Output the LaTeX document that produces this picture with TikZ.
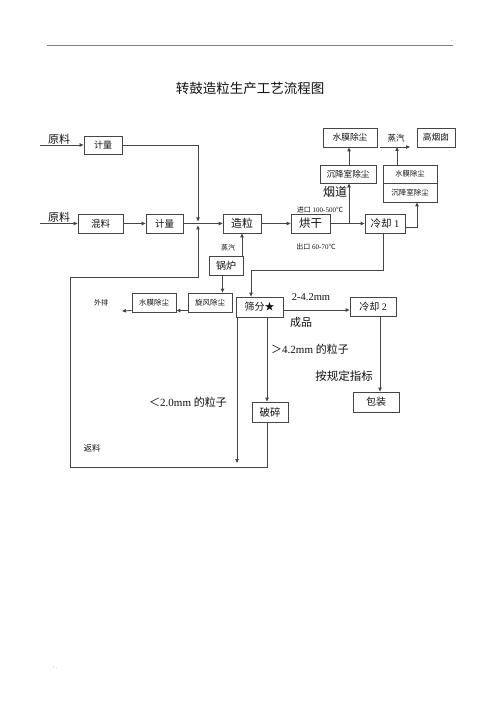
\documentclass[tikz,border=0pt]{standalone}
\usepackage{fontspec}
\setmainfont{Liberation Serif}
\newfontfamily\cjk{Noto Sans CJK SC}
\usetikzlibrary{arrows.meta}
\newcommand\myfs[1]{\fontsize{#1}{#1}\selectfont}
\definecolor{linec}{HTML}{454545}
\definecolor{txtc}{HTML}{111111}
\tikzset{
  box/.style={draw=linec, line width=0.8pt, inner sep=0pt, text=txtc},
  arr/.style={draw=linec, line width=0.8pt, -{Triangle[length=4pt,width=3.4pt]}},
  ln/.style={draw=linec, line width=0.8pt},
  lbl/.style={inner sep=0pt, text=txtc},
}
\begin{document}
\begin{tikzpicture}[x=1pt,y=-1pt]
\useasboundingbox (0,0) rectangle (500,708);
\fill[white] (0,0) rectangle (500,708);
% header rule and marks
\draw[draw=gray, line width=0.8pt] (47,45) -- (453,45);
\node[lbl, font=\myfs{5}] (dot1) at (452,41) {.};
\node[lbl, font=\myfs{5}, text=gray] (dot2) at (55,667) {: .};
% title
\node[lbl, font=\cjk\myfs{13.5}] (title) at (250,88) {转鼓造粒生产工艺流程图};

% boxes
\node[box, minimum width=38pt, minimum height=18pt, font=\cjk\myfs{9}] (jl1) at (103,145) {计量};
\node[box, minimum width=45pt, minimum height=19pt, font=\cjk\myfs{9.5}] (hl) at (100.5,223.5) {混料};
\node[box, minimum width=37pt, minimum height=19pt, font=\cjk\myfs{9.5}] (jl2) at (164.5,223.5) {计量};
\node[box, minimum width=38pt, minimum height=19pt, font=\cjk\myfs{11}] (zl) at (242,223.5) {造粒};
\node[box, minimum width=39pt, minimum height=19pt, font=\cjk\myfs{11.5}] (hg) at (310.5,223.5) {烘干};
\node[box, minimum width=40pt, minimum height=19pt, font=\myfs{10.5}] (lq1) at (385,223.5) {{\cjk 冷却} 1};
\node[box, minimum width=56pt, minimum height=18pt, font=\cjk\myfs{8.6}] (cj1) at (348,174) {沉降室除尘};
\node[box, minimum width=54pt, minimum height=19pt, font=\cjk\myfs{8.7}] (sm1) at (350,137.5) {水膜除尘};
\node[box, minimum width=54pt, minimum height=18pt, font=\cjk\myfs{7.3}] (sm2) at (410,174) {水膜除尘};
\node[box, minimum width=54pt, minimum height=19pt, font=\cjk\myfs{7.5}] (cj2) at (410,192.5) {沉降室除尘};
\node[box, minimum width=38pt, minimum height=19pt, font=\cjk\myfs{8.7}] (gyc) at (436,137.5) {高烟囱};
\node[box, minimum width=34pt, minimum height=19pt, font=\cjk\myfs{10}] (gl) at (226,265.5) {锅炉};
\node[box, minimum width=44pt, minimum height=19pt, font=\cjk\myfs{7.5}] (xf) at (210,302.5) {旋风除尘};
\node[box, minimum width=44pt, minimum height=19pt, font=\cjk\myfs{7.5}] (sm3) at (154,302.5) {水膜除尘};
\node[box, minimum width=47pt, minimum height=20pt, font=\cjk\myfs{10}] (sf) at (259.5,307) {筛分★};
\node[box, minimum width=46pt, minimum height=19pt, font=\myfs{10}] (lq2) at (373,306.5) {{\cjk 冷却} 2};
\node[box, minimum width=36pt, minimum height=20pt, font=\cjk\myfs{10.5}] (ps) at (270,412) {破碎};
\node[box, minimum width=46pt, minimum height=20pt, font=\cjk\myfs{10}] (bz) at (376,402) {包装};

% labels
\node[lbl, font=\cjk\myfs{11}] (yl1) at (59,139) {原料};
\node[lbl, font=\cjk\myfs{11}] (yl2) at (59,217.5) {原料};
\node[lbl, font=\cjk\myfs{7}] (zq1) at (228,248) {蒸汽};
\node[lbl, font=\myfs{7}] (jk) at (320,210) {{\cjk 进口} 100-500{\cjk ℃}};
\node[lbl, font=\myfs{7}] (ck) at (316,247) {{\cjk 出口} 60-70{\cjk ℃}};
\node[lbl, font=\cjk\myfs{12}] (yd) at (335,192) {烟道};
\node[lbl, font=\cjk\myfs{8.5}] (zq2) at (396,138) {蒸汽};
\node[lbl, font=\cjk\myfs{7}] (wp) at (101,303) {外排};
\node[lbl, font=\myfs{10.5}] (l24) at (311,297) {2-4.2mm};
\node[lbl, font=\cjk\myfs{11}] (cp) at (301,322) {成品};
\node[lbl, font=\myfs{11}] (l42) at (310,349) {{\cjk ＞}4.2mm {\cjk 的粒子}};
\node[lbl, font=\cjk\myfs{11.5}] (agd) at (344,376) {按规定指标};
\node[lbl, font=\myfs{11}] (l20) at (188,402) {{\cjk ＜}2.0mm {\cjk 的粒子}};
\node[lbl, font=\cjk\myfs{8.5}] (fl) at (92,448) {返料};

% coordinates
\coordinate (in1) at (40,145);
\coordinate (in2) at (40,223.5);
\coordinate (jt) at (198,221.5);
\coordinate (jb) at (198,225.5);
\coordinate (r1) at (198,277);
\coordinate (r2) at (70,277);
\coordinate (r3) at (70,467);
\coordinate (lt) at (237,463);
\coordinate (k) at (251,270);
\coordinate (ex) at (122,311);
\coordinate (zqs) at (380,147);
\coordinate (zqe) at (410,147);
\coordinate (hv) at (349,223.5);

% connectors
\draw[arr] (in1) -- (jl1.west);
\draw[arr] (in2) -- (hl.west);
\draw[arr] (hl.east) -- (jl2.west);
\draw[arr] (jl2.east) -- (zl.west);
\draw[arr] (jl1.east) -| (jt);
\draw[arr] ([xshift=-3]ps.south) |- (r3) -- (r2) -- (r1) -- (jb);
\draw[arr] (zl.east) -- (hg.west);
\draw[arr] (hg.east) -- (lq1.west);
\draw[arr] (hv) -- (hv |- cj1.south);
\draw[arr] ([xshift=1]cj1.north) -- ([xshift=-1]sm1.south);
\draw[arr] ([yshift=-3.5]lq1.east) -| ([xshift=7]cj2.south);
\draw[arr] ([xshift=-13]sm2.north) -- ([xshift=-13]sm2.north |- zqe);
\draw[arr] (zqs) -- (zqe);
\draw[arr] ([xshift=-2]lq1.south) |- (k) -- (k |- sf.north);
\draw[arr] ([xshift=16]gl.north) -- (zl.south);
\draw[arr] ([xshift=-3.5]gl.south) -- ([xshift=-3.5]gl.south |- xf.north);
\draw[arr] ([yshift=-8]xf.west) -- ([yshift=-8]sm3.east);
\draw[arr] ([yshift=-8]sm3.west) -- (ex);
\draw[arr] ([yshift=-3]sf.east) -- ([yshift=-3]sf.east -| lq2.west);
\draw[arr] ([xshift=7.5]sf.south) -- ([xshift=7.5]sf.south |- ps.north);
\draw[arr] ([xshift=-22.5]sf.south) -- (lt);
\draw[arr] ([xshift=7]lq2.south) -- ([xshift=7]lq2.south |- bz.north);
\end{tikzpicture}
\end{document}
